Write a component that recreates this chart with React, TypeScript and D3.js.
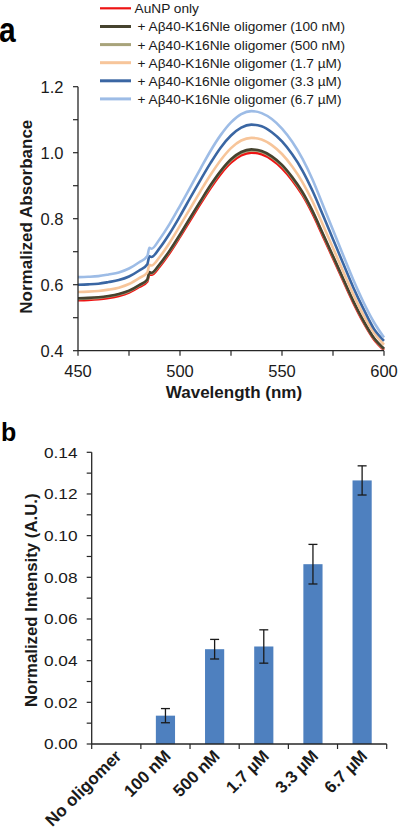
import React from "react";
import * as d3 from "d3";

// ---------- Panel a data ----------
const WAVELENGTHS = [450, 455, 460, 465, 470, 475, 480, 484, 485, 486, 490, 495, 500, 505, 510, 515, 520, 525, 530, 535, 540, 545, 550, 555, 560, 565, 570, 575, 580, 585, 590, 595, 600];

const AUNP_ONLY = [0.553, 0.554, 0.556, 0.560, 0.566, 0.576, 0.593, 0.610, 0.632, 0.630, 0.655, 0.697, 0.745, 0.795, 0.845, 0.893, 0.936, 0.970, 0.992, 1.000, 0.995, 0.979, 0.953, 0.917, 0.872, 0.815, 0.748, 0.680, 0.612, 0.545, 0.485, 0.435, 0.402];
const OLIGO_100NM = [0.559, 0.560, 0.562, 0.566, 0.572, 0.582, 0.599, 0.616, 0.638, 0.636, 0.662, 0.704, 0.752, 0.803, 0.853, 0.902, 0.945, 0.980, 1.002, 1.010, 1.005, 0.989, 0.963, 0.926, 0.881, 0.823, 0.755, 0.687, 0.618, 0.550, 0.490, 0.439, 0.406];
const OLIGO_500NM = [0.557, 0.558, 0.560, 0.564, 0.570, 0.580, 0.597, 0.614, 0.636, 0.634, 0.660, 0.702, 0.750, 0.801, 0.851, 0.899, 0.943, 0.977, 0.999, 1.007, 1.002, 0.986, 0.960, 0.923, 0.878, 0.821, 0.753, 0.685, 0.616, 0.549, 0.488, 0.438, 0.405];
const OLIGO_1_7UM = [0.578, 0.579, 0.581, 0.585, 0.591, 0.602, 0.620, 0.637, 0.660, 0.658, 0.684, 0.728, 0.779, 0.831, 0.883, 0.933, 0.978, 1.014, 1.037, 1.045, 1.040, 1.023, 0.996, 0.958, 0.911, 0.852, 0.782, 0.711, 0.640, 0.570, 0.507, 0.455, 0.418];
const OLIGO_3_3UM = [0.600, 0.601, 0.603, 0.608, 0.614, 0.625, 0.643, 0.662, 0.686, 0.684, 0.711, 0.756, 0.808, 0.863, 0.917, 0.969, 1.016, 1.052, 1.076, 1.085, 1.080, 1.062, 1.034, 0.995, 0.946, 0.884, 0.812, 0.738, 0.664, 0.591, 0.526, 0.467, 0.430];
const OLIGO_6_7UM = [0.623, 0.624, 0.626, 0.631, 0.637, 0.649, 0.668, 0.687, 0.712, 0.709, 0.738, 0.785, 0.839, 0.895, 0.951, 1.006, 1.054, 1.092, 1.117, 1.126, 1.120, 1.102, 1.073, 1.033, 0.982, 0.918, 0.842, 0.766, 0.689, 0.614, 0.546, 0.487, 0.440];

const SPECTRA_NAMES = [
  "AuNP only",
  "+ Aβ40-K16Nle oligomer (100 nM)",
  "+ Aβ40-K16Nle oligomer (500 nM)",
  "+ Aβ40-K16Nle oligomer (1.7 µM)",
  "+ Aβ40-K16Nle oligomer (3.3 µM)",
  "+ Aβ40-K16Nle oligomer (6.7 µM)",
];
const SPECTRA_VALUES = [AUNP_ONLY, OLIGO_100NM, OLIGO_500NM, OLIGO_1_7UM, OLIGO_3_3UM, OLIGO_6_7UM];
const SPECTRA_COLORS = ["#ee1414", "#46432f", "#a8a37a", "#f7c59a", "#3a66a3", "#9dbce6"];
const DRAW_ORDER = [0, 2, 1, 3, 4, 5];

const A_X_TICKS = [450, 500, 550, 600];
const A_X_MINOR = [450, 475, 500, 525, 550, 575, 600];
const A_Y_TICKS = [0.4, 0.6, 0.8, 1.0, 1.2];
const A_Y_MINOR = [0.4, 0.5, 0.6, 0.7, 0.8, 0.9, 1.0, 1.1, 1.2];

// ---------- Panel b data ----------
const BAR_CATEGORIES = ["No oligomer", "100 nM", "500 nM", "1.7 µM", "3.3 µM", "6.7 µM"];
const BAR_VALUES = [0, 0.0136, 0.0455, 0.0468, 0.0863, 0.1265];
const BAR_ERRORS = [0, 0.0034, 0.0047, 0.008, 0.0095, 0.007];
const B_Y_TICKS = [0, 0.02, 0.04, 0.06, 0.08, 0.1, 0.12, 0.14];
const B_Y_MINOR = [0, 0.01, 0.02, 0.03, 0.04, 0.05, 0.06, 0.07, 0.08, 0.09, 0.1, 0.11, 0.12, 0.13, 0.14];

const FONT = "'Liberation Sans', Arial, Helvetica, sans-serif";
const AXIS = "#262626";
const TEXT = "#1a1a1a";

export default function App() {
  // panel a scales
  const ax = d3.scaleLinear().domain([450, 600]).range([78, 384]);
  const ay = d3.scaleLinear().domain([0.4, 1.2]).range([350.7, 86.7]);
  const line = d3
    .line<number>()
    .x((_, i) => ax(WAVELENGTHS[i]))
    .y((d) => ay(d))
    .curve(d3.curveMonotoneX);

  // panel b scales
  const bx = d3.scaleBand<string>().domain(BAR_CATEGORIES).range([91.7, 386.7]).paddingInner(0.61).paddingOuter(0.305);
  const by = d3.scaleLinear().domain([0, 0.14]).range([744, 452.3]);
  const step = bx.step();
  const bandStart = 91.7;

  const legendRows = [8.3, 26.5, 44.6, 62.7, 80.8, 98.9];

  return (
    <div style={{ position: "absolute", left: 0, top: 0, width: 400, height: 838, background: "#fff" }}>
      <svg width={400} height={838} style={{ display: "block" }} fontFamily={FONT}>
        <rect x={0} y={0} width={400} height={838} fill="#fff" />
        {/* ---------- Panel a ---------- */}
        <text x={-1} y={42} fontSize={30} fontWeight="bold" fill="#000" transform="translate(0,-6) scale(1,1.15)">
          a
        </text>

        {/* legend */}
        {SPECTRA_NAMES.map((name, i) => (
          <g key={name}>
            <line x1={100} x2={131} y1={legendRows[i]} y2={legendRows[i]} stroke={SPECTRA_COLORS[i]} strokeWidth={i === 0 ? 2.2 : 3} />
            <text x={i === 0 ? 134.5 : 137.5} y={legendRows[i]} dy="0.36em" fontSize={13.7} fill={TEXT}>
              {name}
            </text>
          </g>
        ))}

        {/* curves */}
        {DRAW_ORDER.map((i) => (
          <path key={SPECTRA_NAMES[i]} d={line(SPECTRA_VALUES[i]) || ""} fill="none" stroke={SPECTRA_COLORS[i]} strokeWidth={2.6} strokeLinejoin="round" />
        ))}

        {/* axes a */}
        <line x1={ax(450)} x2={ax(450)} y1={ay(1.2)} y2={ay(0.4)} stroke={AXIS} strokeWidth={1.3} />
        <line x1={ax(450)} x2={ax(600)} y1={ay(0.4)} y2={ay(0.4)} stroke={AXIS} strokeWidth={1.3} />
        {A_Y_MINOR.map((t) => (
          <line key={"aym" + t} x1={ax(450) - 5} x2={ax(450)} y1={ay(t)} y2={ay(t)} stroke={AXIS} strokeWidth={1.2} />
        ))}
        {A_X_MINOR.map((t) => (
          <line key={"axm" + t} x1={ax(t)} x2={ax(t)} y1={ay(0.4)} y2={ay(0.4) + 5} stroke={AXIS} strokeWidth={1.2} />
        ))}
        {A_Y_TICKS.map((t) => (
          <text key={"ayt" + t} x={63.5} y={ay(t)} dy="0.36em" textAnchor="end" fontSize={16.5} fill={TEXT}>
            {t.toFixed(1)}
          </text>
        ))}
        {A_X_TICKS.map((t) => (
          <text key={"axt" + t} x={ax(t)} y={376.5} textAnchor="middle" fontSize={16.5} fill={TEXT}>
            {t}
          </text>
        ))}
        <text x={(ax(450) + ax(600)) / 2 + 3} y={398} textAnchor="middle" fontSize={17} fontWeight="bold" fill={TEXT}>
          Wavelength (nm)
        </text>
        <text transform={`translate(31.5, ${(ay(0.4) + ay(1.2)) / 2 - 2}) rotate(-90)`} textAnchor="middle" fontSize={17} fontWeight="bold" fill={TEXT}>
          Normalized Absorbance
        </text>

        {/* ---------- Panel b ---------- */}
        <text x={1} y={441} fontSize={25} fontWeight="bold" fill="#000">
          b
        </text>

        {BAR_CATEGORIES.map((c, i) => (
          <rect key={"bar" + c} x={bx(c)} y={by(BAR_VALUES[i])} width={bx.bandwidth()} height={by(0) - by(BAR_VALUES[i])} fill="#4e80bf" />
        ))}
        {BAR_CATEGORIES.map((c, i) => {
          if (BAR_ERRORS[i] === 0) return null;
          const cx = (bx(c) as number) + bx.bandwidth() / 2;
          const top = by(BAR_VALUES[i] + BAR_ERRORS[i]);
          const bot = by(BAR_VALUES[i] - BAR_ERRORS[i]);
          return (
            <g key={"err" + c} stroke="#1a1a1a" strokeWidth={1.3}>
              <line x1={cx} x2={cx} y1={top} y2={bot} />
              <line x1={cx - 4.5} x2={cx + 4.5} y1={top} y2={top} />
              <line x1={cx - 4.5} x2={cx + 4.5} y1={bot} y2={bot} />
            </g>
          );
        })}

        {/* axes b */}
        <line x1={91.7} x2={91.7} y1={by(0.14)} y2={by(0)} stroke={AXIS} strokeWidth={1.3} />
        <line x1={91.7} x2={386.7} y1={by(0)} y2={by(0)} stroke={AXIS} strokeWidth={1.3} />
        {B_Y_MINOR.map((t) => (
          <line key={"bym" + t} x1={91.7 - 5} x2={91.7} y1={by(t)} y2={by(t)} stroke={AXIS} strokeWidth={1.2} />
        ))}
        {d3.range(BAR_CATEGORIES.length + 1).map((k) => (
          <line key={"bxt" + k} x1={bandStart + k * step} x2={bandStart + k * step} y1={by(0)} y2={by(0) + 5} stroke={AXIS} strokeWidth={1.2} />
        ))}
        {B_Y_TICKS.map((t) => (
          <text key={"byt" + t} transform={`translate(77.5, ${by(t)}) scale(1.15,1)`} dy="0.36em" textAnchor="end" fontSize={15} fill={TEXT}>
            {t.toFixed(2)}
          </text>
        ))}
        {BAR_CATEGORIES.map((c) => {
          const cx = (bx(c) as number) + bx.bandwidth() / 2;
          return (
            <text key={"bxl" + c} transform={`translate(${cx + 2}, 753) rotate(-45)`} dy="0.35em" textAnchor="end" fontSize={17} fontWeight="bold" fill={TEXT}>
              {c}
            </text>
          );
        })}
        <text transform={`translate(36.5, ${(by(0) + by(0.14)) / 2 + 2}) rotate(-90)`} textAnchor="middle" fontSize={16.8} fontWeight="bold" fill={TEXT}>
          Normalized Intensity (A.U.)
        </text>
      </svg>
    </div>
  );
}
